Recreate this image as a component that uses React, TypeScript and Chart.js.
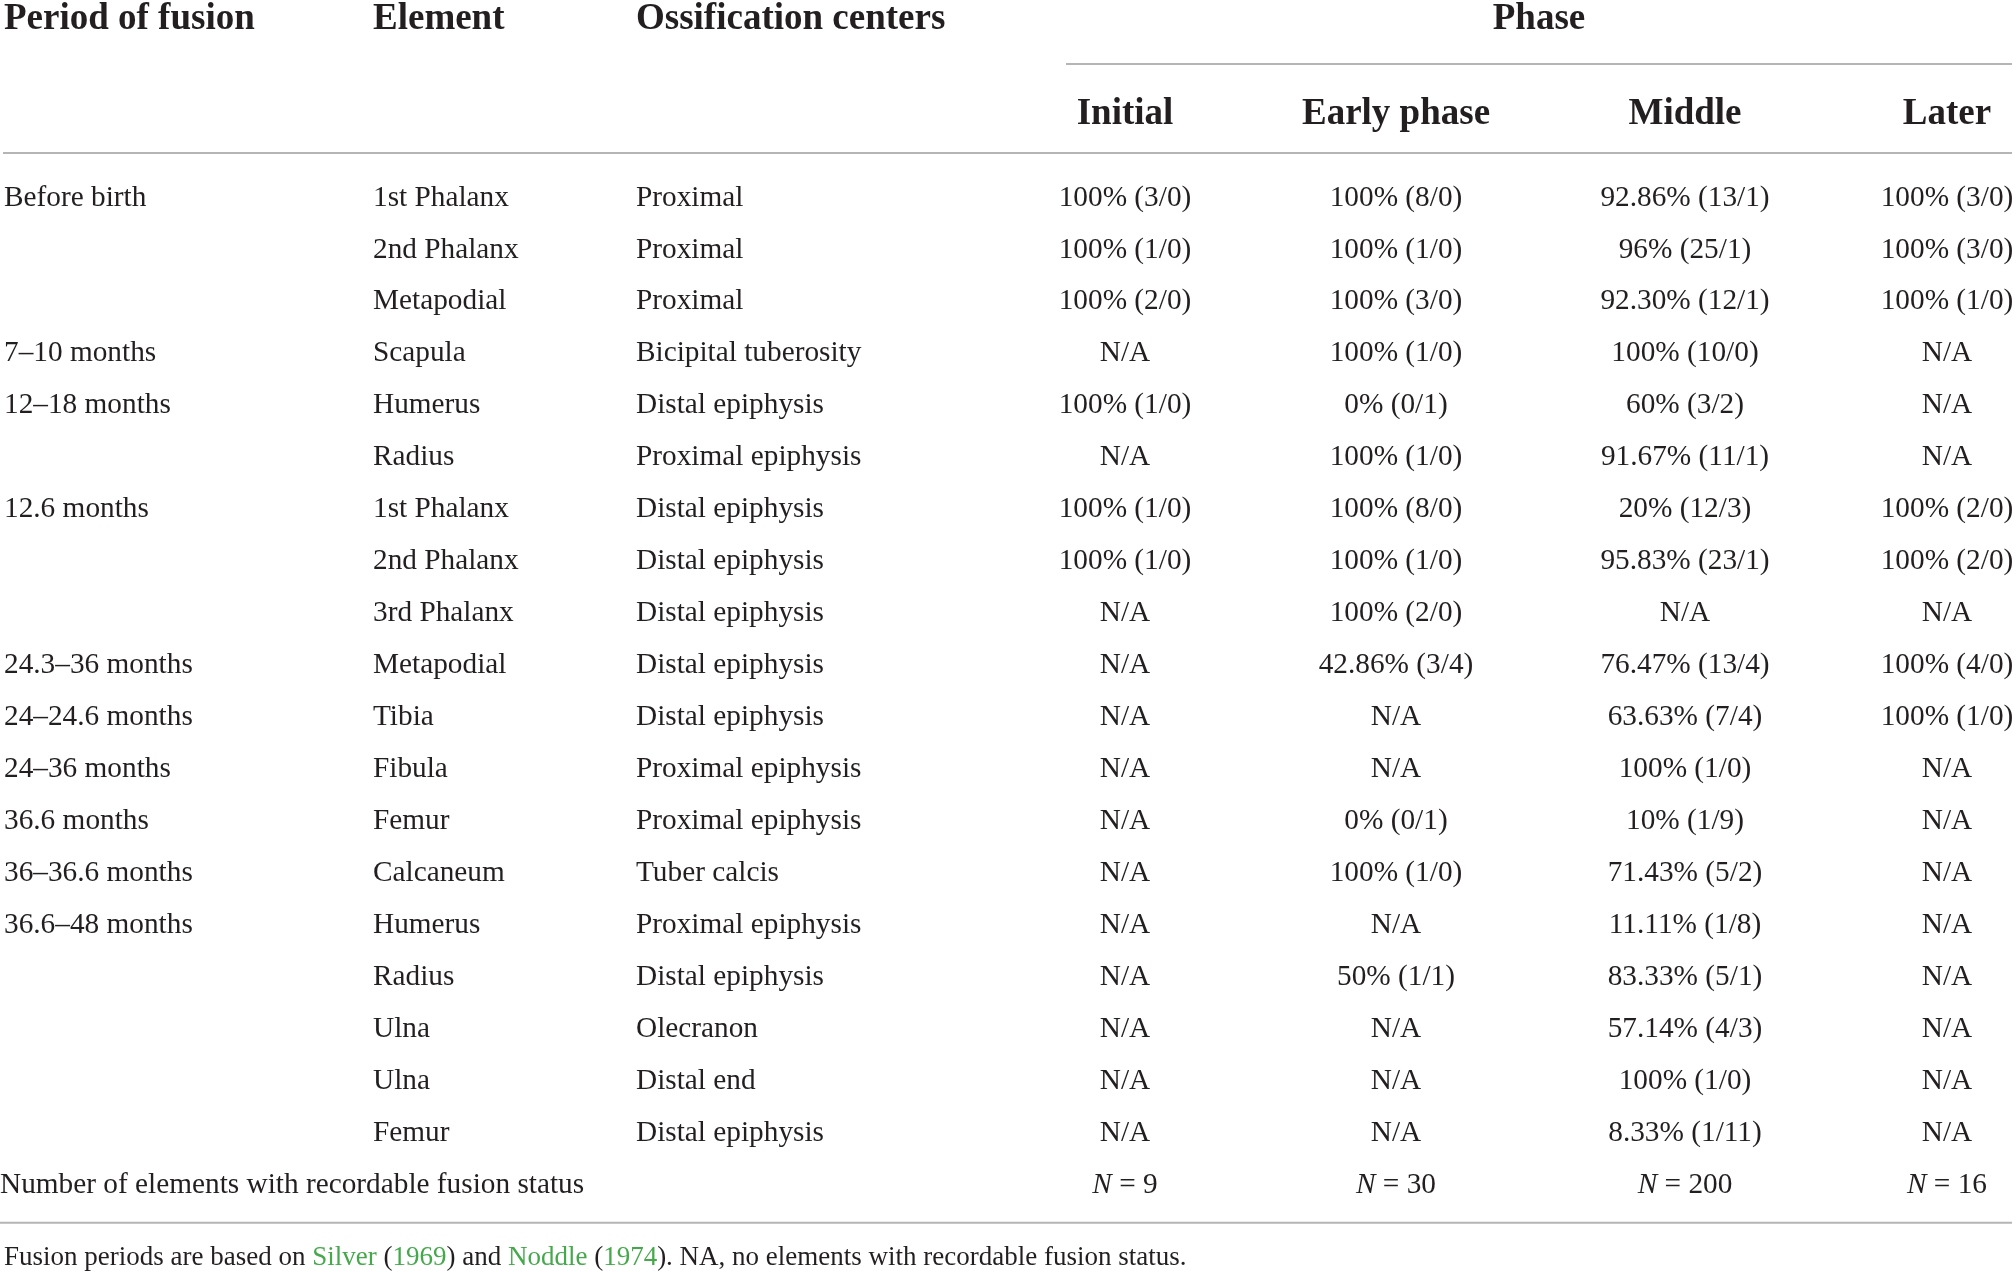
import React, { useEffect, useRef } from "react";
import { Chart, registerables } from "chart.js";

Chart.register(...registerables);

// ---------- DATA ----------
const columnHeaders = ["Period of fusion", "Element", "Ossification centers"];
const groupHeader = "Phase";
const phaseHeaders = ["Initial", "Early phase", "Middle", "Later"];

const periods = [
  "Before birth", "", "", "7–10 months", "12–18 months", "", "12.6 months", "", "",
  "24.3–36 months", "24–24.6 months", "24–36 months", "36.6 months", "36–36.6 months",
  "36.6–48 months", "", "", "", "",
];
const elements = [
  "1st Phalanx", "2nd Phalanx", "Metapodial", "Scapula", "Humerus", "Radius",
  "1st Phalanx", "2nd Phalanx", "3rd Phalanx", "Metapodial", "Tibia", "Fibula",
  "Femur", "Calcaneum", "Humerus", "Radius", "Ulna", "Ulna", "Femur",
];
const ossificationCenters = [
  "Proximal", "Proximal", "Proximal", "Bicipital tuberosity", "Distal epiphysis",
  "Proximal epiphysis", "Distal epiphysis", "Distal epiphysis", "Distal epiphysis",
  "Distal epiphysis", "Distal epiphysis", "Proximal epiphysis", "Proximal epiphysis",
  "Tuber calcis", "Proximal epiphysis", "Distal epiphysis", "Olecranon", "Distal end",
  "Distal epiphysis",
];
const initialPhase = [
  "100% (3/0)", "100% (1/0)", "100% (2/0)", "N/A", "100% (1/0)", "N/A", "100% (1/0)",
  "100% (1/0)", "N/A", "N/A", "N/A", "N/A", "N/A", "N/A", "N/A", "N/A", "N/A", "N/A", "N/A",
];
const earlyPhase = [
  "100% (8/0)", "100% (1/0)", "100% (3/0)", "100% (1/0)", "0% (0/1)", "100% (1/0)",
  "100% (8/0)", "100% (1/0)", "100% (2/0)", "42.86% (3/4)", "N/A", "N/A", "0% (0/1)",
  "100% (1/0)", "N/A", "50% (1/1)", "N/A", "N/A", "N/A",
];
const middlePhase = [
  "92.86% (13/1)", "96% (25/1)", "92.30% (12/1)", "100% (10/0)", "60% (3/2)",
  "91.67% (11/1)", "20% (12/3)", "95.83% (23/1)", "N/A", "76.47% (13/4)", "63.63% (7/4)",
  "100% (1/0)", "10% (1/9)", "71.43% (5/2)", "11.11% (1/8)", "83.33% (5/1)",
  "57.14% (4/3)", "100% (1/0)", "8.33% (1/11)",
];
const laterPhase = [
  "100% (3/0)", "100% (3/0)", "100% (1/0)", "N/A", "N/A", "N/A", "100% (2/0)",
  "100% (2/0)", "N/A", "100% (4/0)", "100% (1/0)", "N/A", "N/A", "N/A", "N/A", "N/A",
  "N/A", "N/A", "N/A",
];
const totalsLabel = "Number of elements with recordable fusion status";
const phaseTotals = [9, 30, 200, 16];

const footnoteRuns: [string, boolean][] = [
  ["Fusion periods are based on ", false],
  ["Silver", true],
  [" (", false],
  ["1969", true],
  [") and ", false],
  ["Noddle", true],
  [" (", false],
  ["1974", true],
  ["). NA, no elements with recordable fusion status.", false],
];

// ---------- LAYOUT / STYLE ----------
const W = 2012;
const H = 1271;
const ROW0_PX = 196.3;
const ROW_PX = 51.97;
const Y_MIN = -ROW0_PX / ROW_PX;
const Y_MAX = (H - ROW0_PX) / ROW_PX;

const layout = {
  leftCols: [4, 373, 636],
  phaseCols: [1125, 1396, 1685, 1947],
  phaseCenter: 1539,
  phaseLineStart: 1066,
  ruleStart: 3,
  header1Row: -3.44,
  header2Row: -1.6,
  phaseLineRow: -2.546,
  topRuleRow: -0.833,
  totalsRow: 19,
  bottomRuleRow: 19.75,
  footRow: 20.42,
  textShift: 0.03,
};

const FAMILY = "'Liberation Serif', 'Times New Roman', serif";
const TEXT = "#231f20";
const RULE = "#b5b5b5";
const LINK = "#45a94c";
const HEAD_FONT = `bold 37px ${FAMILY}`;
const BODY_FONT = `29.3px ${FAMILY}`;
const ITALIC_FONT = `italic 29.3px ${FAMILY}`;
const FOOT_FONT = `27px ${FAMILY}`;

const tablePlugin = {
  id: "tableDraw",
  afterDraw(chart: any) {
    const ctx: CanvasRenderingContext2D = chart.ctx;
    const xs = chart.scales.x;
    const ys = chart.scales.y;
    const X = (v: number) => xs.getPixelForValue(v);
    const Y = (v: number) => ys.getPixelForValue(v);
    const TY = (v: number) => ys.getPixelForValue(v + layout.textShift);

    ctx.save();
    ctx.fillStyle = "#ffffff";
    ctx.fillRect(0, 0, chart.width, chart.height);

    // rules
    ctx.strokeStyle = RULE;
    ctx.lineWidth = 2;
    const hline = (row: number, x0: number, x1: number) => {
      ctx.beginPath();
      ctx.moveTo(X(x0), Y(row));
      ctx.lineTo(X(x1), Y(row));
      ctx.stroke();
    };
    hline(layout.phaseLineRow, layout.phaseLineStart, W);
    hline(layout.topRuleRow, layout.ruleStart, W);
    hline(layout.bottomRuleRow, 0, W);

    ctx.textBaseline = "middle";
    ctx.fillStyle = TEXT;

    // headers
    ctx.font = HEAD_FONT;
    ctx.textAlign = "left";
    columnHeaders.forEach((h, i) => ctx.fillText(h, X(layout.leftCols[i]), TY(layout.header1Row)));
    ctx.textAlign = "center";
    ctx.fillText(groupHeader, X(layout.phaseCenter), TY(layout.header1Row));
    phaseHeaders.forEach((h, i) => ctx.fillText(h, X(layout.phaseCols[i]), TY(layout.header2Row)));

    // body
    ctx.font = BODY_FONT;
    const leftData = [periods, elements, ossificationCenters];
    const phaseData = [initialPhase, earlyPhase, middlePhase, laterPhase];
    ctx.textAlign = "left";
    leftData.forEach((col, c) =>
      col.forEach((t, r) => {
        if (t) ctx.fillText(t, X(layout.leftCols[c]), TY(r));
      })
    );
    ctx.textAlign = "center";
    phaseData.forEach((col, c) =>
      col.forEach((t, r) => ctx.fillText(t, X(layout.phaseCols[c]), TY(r)))
    );

    // totals row
    ctx.textAlign = "left";
    ctx.fillText(totalsLabel, X(0), TY(layout.totalsRow));
    phaseTotals.forEach((n, c) => {
      const rest = ` = ${n}`;
      ctx.font = ITALIC_FONT;
      const wN = ctx.measureText("N").width;
      ctx.font = BODY_FONT;
      const wR = ctx.measureText(rest).width;
      const x0 = X(layout.phaseCols[c]) - (wN + wR) / 2;
      ctx.font = ITALIC_FONT;
      ctx.fillText("N", x0, TY(layout.totalsRow));
      ctx.font = BODY_FONT;
      ctx.fillText(rest, x0 + wN, TY(layout.totalsRow));
    });

    // footnote
    ctx.font = FOOT_FONT;
    let fx = X(layout.ruleStart + 1);
    footnoteRuns.forEach(([t, link]) => {
      ctx.fillStyle = link ? LINK : TEXT;
      ctx.fillText(t, fx, Y(layout.footRow));
      fx += ctx.measureText(t).width;
    });

    ctx.restore();
  },
};

export default function App() {
  const ref = useRef<HTMLCanvasElement | null>(null);

  useEffect(() => {
    if (!ref.current) return;
    const chart = new Chart(ref.current, {
      type: "scatter",
      data: { datasets: [] },
      options: {
        responsive: false,
        animation: false,
        devicePixelRatio: 1,
        layout: { padding: 0 },
        plugins: { legend: { display: false }, tooltip: { enabled: false }, title: { display: false } },
        scales: {
          x: { type: "linear", min: 0, max: W, display: false },
          y: { type: "linear", min: Y_MIN, max: Y_MAX, reverse: true, display: false },
        },
      },
      plugins: [tablePlugin],
    });
    return () => chart.destroy();
  }, []);

  return (
    <div style={{ position: "absolute", left: 0, top: 0, width: W, height: H, background: "#fff" }}>
      <canvas ref={ref} width={W} height={H} style={{ display: "block" }} />
    </div>
  );
}
